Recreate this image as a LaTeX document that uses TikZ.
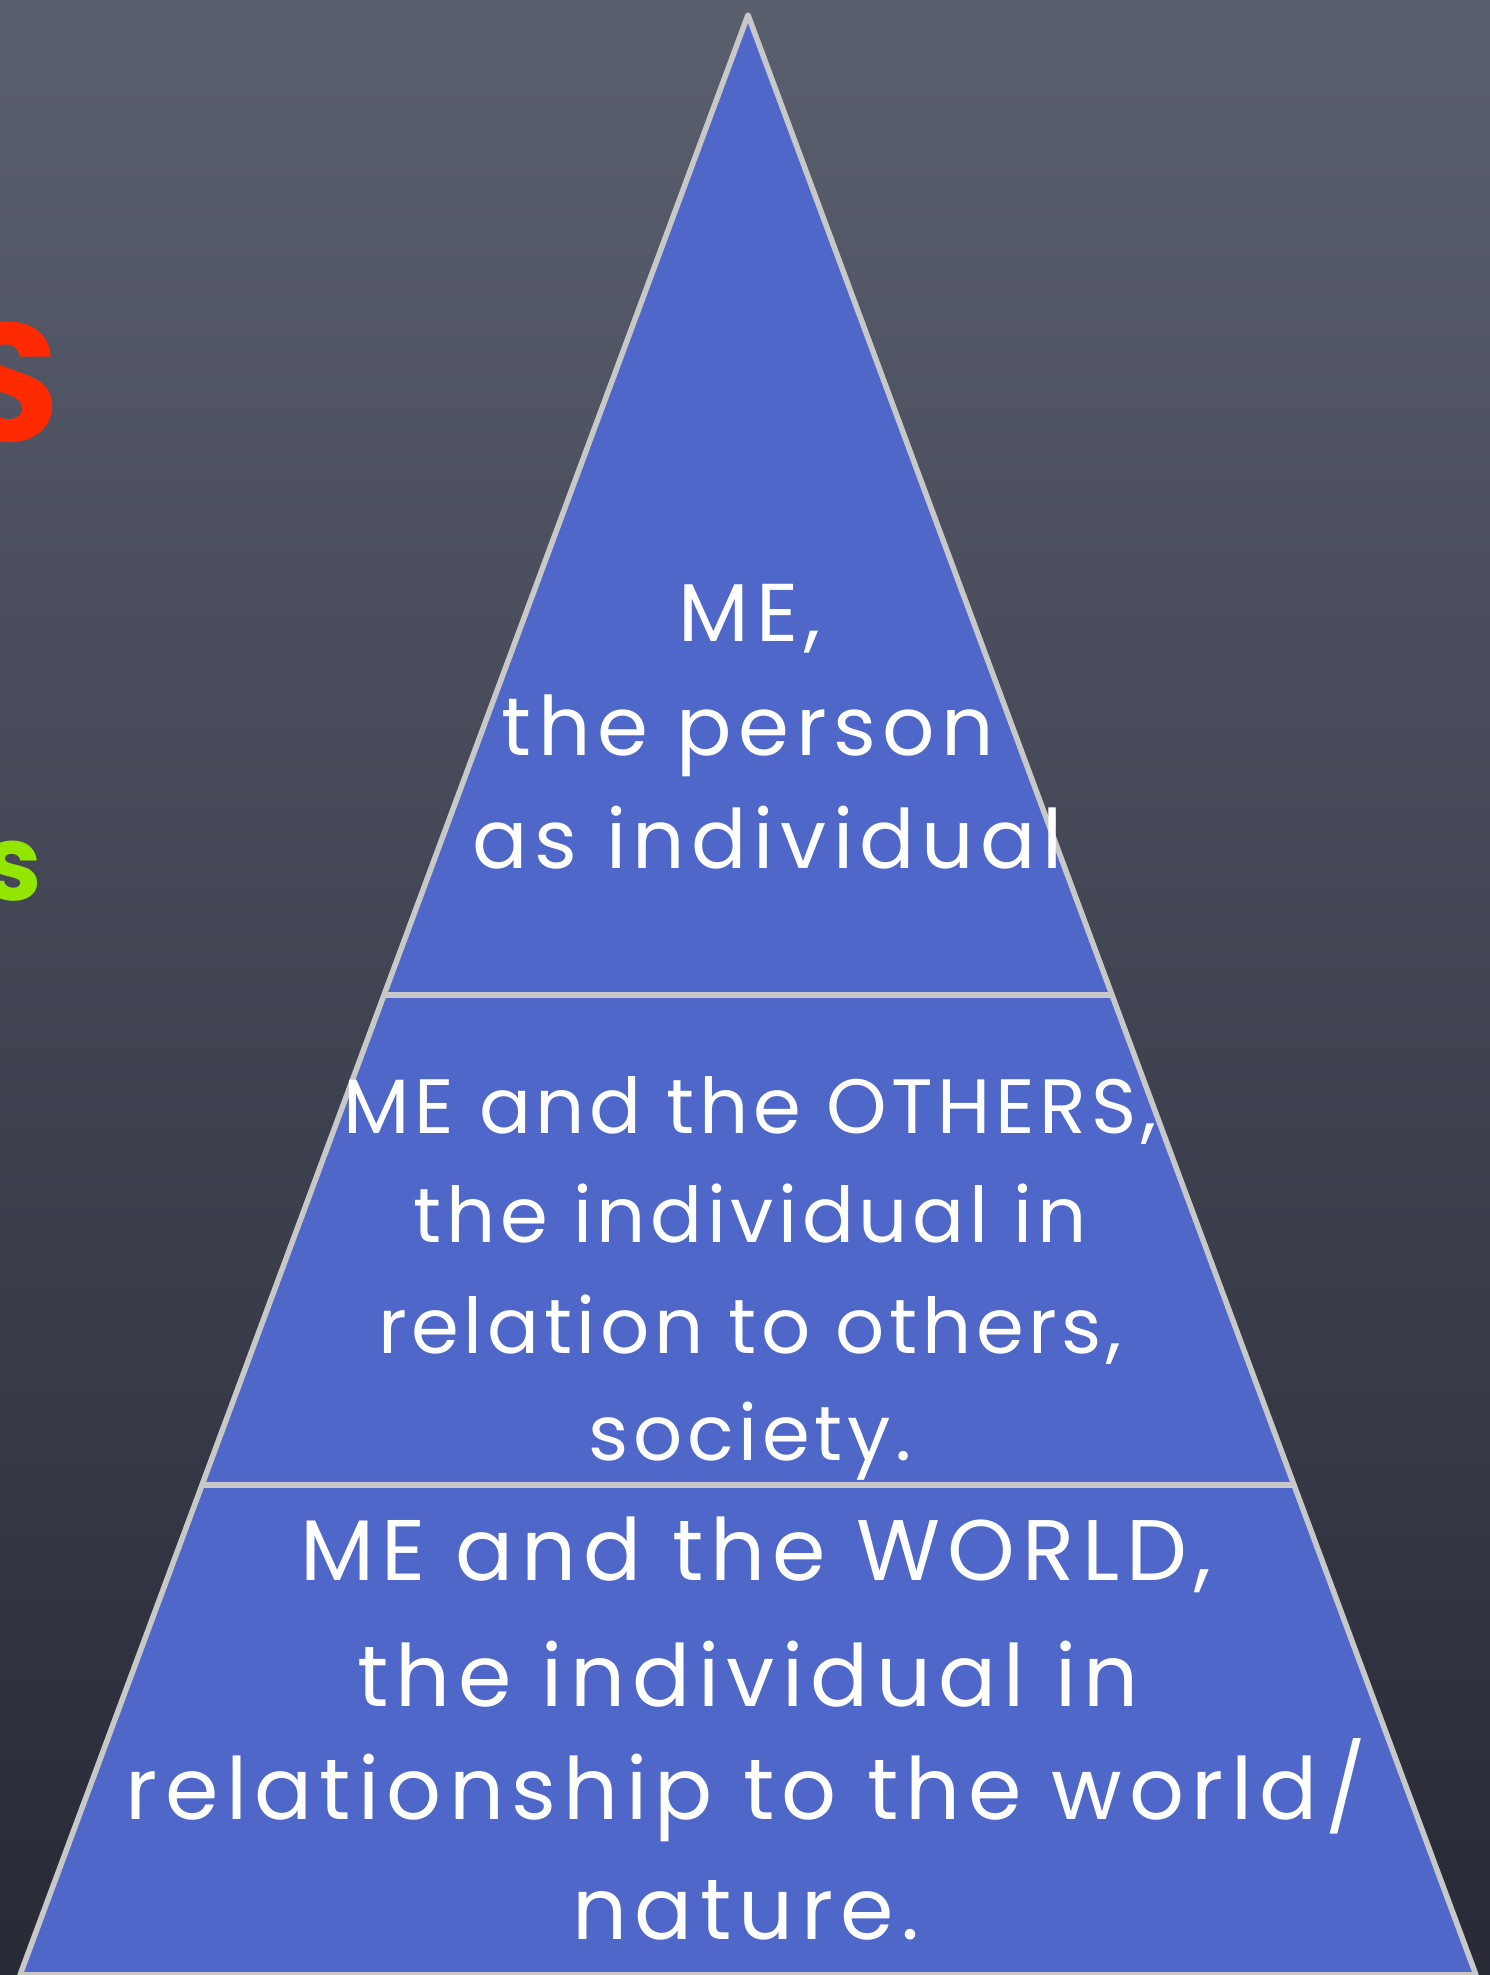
\documentclass[tikz,border=0pt]{standalone}
\usepackage{fontspec}
\setmainfont{Poppins}
\usetikzlibrary{calc}
\definecolor{boardtop}{RGB}{90,95,110}
\definecolor{boardmid}{RGB}{82,86,99}
\definecolor{boardbot}{RGB}{40,42,54}
\definecolor{pyr}{RGB}{79,103,200}
\definecolor{edge}{RGB}{200,200,200}
\definecolor{chalkred}{RGB}{255,42,0}
\definecolor{chalkgreen}{RGB}{146,230,0}
\tikzset{
  lbl/.style={text=white, anchor=base, inner sep=0pt},
  topfont/.style={lbl, font=\fontsize{82}{88}\selectfont\addfontfeature{LetterSpace=8}},
  midfont/.style={lbl, font=\fontsize{77}{83}\selectfont\addfontfeature{LetterSpace=6}},
  botfont/.style={lbl, font=\fontsize{86}{92}\selectfont\addfontfeature{LetterSpace=8.5}},
  divider/.style={draw=edge, line width=5.5pt}
}
\begin{document}
\begin{tikzpicture}[x=1pt,y=1pt]
\useasboundingbox (0,0) rectangle (1490,1975);
\clip (0,0) rectangle (1490,1975);
\shade[top color=boardtop, middle color=boardmid, bottom color=boardbot] (0,0) rectangle (1490,1975);
% cut-off letters at the left edge
\node[text=chalkred, anchor=east, inner sep=0pt, font=\bfseries\fontsize{168}{168}\selectfont] (redS) at (60,1593) {S};
\node[text=chalkgreen, anchor=east, inner sep=0pt, font=\bfseries\fontsize{105}{105}\selectfont] (greens) at (42,1104) {s};
% pyramid
\coordinate (A) at (748,1960);
\coordinate (BL) at (20,0);
\coordinate (BR) at (1476,0);
\filldraw[fill=pyr, draw=edge, line width=5.5pt, line join=round] (A) -- (BL) -- (BR) -- cycle;
\coordinate (d1l) at ($(A)!0.5!(BL)$);
\coordinate (d1r) at ($(A)!0.5!(BR)$);
\coordinate (d2l) at ($(A)!0.75!(BL)$);
\coordinate (d2r) at ($(A)!0.75!(BR)$);
\draw[divider] (d1l) -- (d1r);
\draw[divider] (d2l) -- (d2r);
% top section
\node[topfont] (t1) at (750,1333) {ME,};
\node[topfont] (t2) at (748,1219) {the person};
\node[topfont] (t3) at (768,1106) {as individual};
% middle section
\node[midfont] (m1) at (750,841) {ME and the OTHERS,};
\node[midfont] (m2) at (750,732) {the individual in};
\node[midfont] (m3) at (750,621) {relation to others,};
\node[midfont] (m4) at (750,514) {society.};
% bottom section
\node[botfont] (b1) at (756,394) {ME and the WORLD,};
\node[botfont] (b2) at (748,268) {the individual in};
\node[botfont] (b3) at (746,155) {relationship to the world/};
\node[botfont] (b4) at (746,35) {nature.};
\end{tikzpicture}
\end{document}
